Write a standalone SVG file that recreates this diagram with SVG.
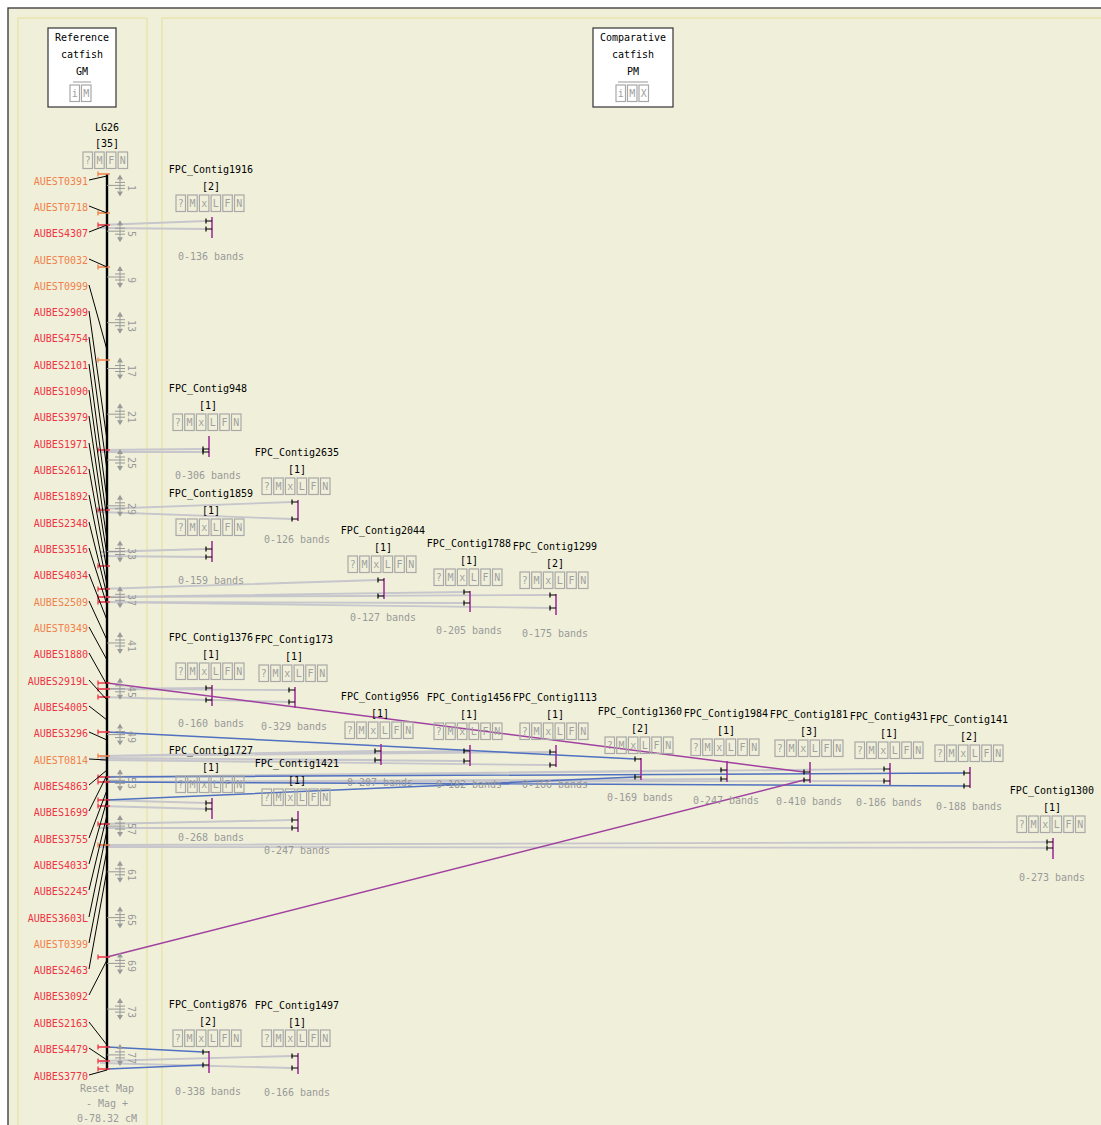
<svg xmlns="http://www.w3.org/2000/svg" xmlns:xlink="http://www.w3.org/1999/xlink" width="1101" height="1125" viewBox="0 0 1101 1125">
<style>
text{font-family:"DejaVu Sans Mono","Liberation Mono",monospace;font-size:10px;fill:#000}
.c{text-anchor:middle}
.e{text-anchor:end}
.g{fill:#999}
.r{fill:#ee3344}
.o{fill:#f0804a}
.bx{fill:none;stroke:#a8a8a8;stroke-width:1.2}
.bt{fill:#a0a0a0;text-anchor:middle}
.bar{stroke:#a0309a;stroke-width:1.6}
.tk{stroke:#000;stroke-width:1.2;fill:none}
.gl{stroke:#c6c6cc;stroke-width:1.8;fill:none}
.bl{stroke:#5070c0;stroke-width:1.5;fill:none}
.pl{stroke:#a040a0;stroke-width:1.5;fill:none}
.ld{stroke:#000;stroke-width:1;fill:none}
.hr{stroke:#ee3344;stroke-width:1.3;fill:none}
.ho{stroke:#f0804a;stroke-width:1.3;fill:none}
</style>
<defs>
<g id="b6">
<rect class="bx" x="0" y="0" width="9.5" height="16.5"/><rect class="bx" x="11.7" y="0" width="9.5" height="16.5"/><rect class="bx" x="23.4" y="0" width="9.5" height="16.5"/><rect class="bx" x="35.1" y="0" width="9.5" height="16.5"/><rect class="bx" x="46.8" y="0" width="9.5" height="16.5"/><rect class="bx" x="58.5" y="0" width="9.5" height="16.5"/>
<text class="bt" x="4.75" y="12">?</text><text class="bt" x="16.45" y="12">M</text><text class="bt" x="28.15" y="12">x</text><text class="bt" x="39.85" y="12">L</text><text class="bt" x="51.55" y="12">F</text><text class="bt" x="63.25" y="12">N</text>
</g>
<g id="tk">
<path d="M0,0H18 M8,-3H18 M8,3H18 M13,-6V6" stroke="#999" fill="none"/>
<path d="M10,-6L13,-11L16,-6Z M10,6L13,11L16,6Z" fill="#999"/>
</g>
<path id="ct" d="M-6,-2.5V2.5 M-6,0H0" class="tk"/>
<path id="hr" d="M98,-2.5V2.5 M98,0H110" class="hr"/>
<path id="ho" d="M98,-2.5V2.5 M98,0H110" class="ho"/>
</defs>

<rect width="1101" height="1125" fill="#fff"/>
<rect x="8" y="8" width="1100" height="1130" fill="#f0f0da" stroke="#333" stroke-width="1.3"/>
<rect x="18" y="18" width="129" height="1120" fill="none" stroke="#e8e2a4" stroke-width="1.2"/>
<rect x="162" y="18" width="950" height="1120" fill="none" stroke="#e8e2a4" stroke-width="1.2"/>

<g id="ref-box">
<rect x="48" y="28" width="68" height="79" fill="#fff" stroke="#333" stroke-width="1.2"/>
<text class="c" x="82" y="41">Reference</text>
<text class="c" x="82" y="58">catfish</text>
<text class="c" x="82" y="75">GM</text>
<line x1="73" y1="82" x2="91" y2="82" stroke="#999"/>
<rect class="bx" x="70" y="85" width="9.5" height="16.5"/><rect class="bx" x="81.5" y="85" width="9.5" height="16.5"/>
<text class="bt" x="74.75" y="97">i</text><text class="bt" x="86.25" y="97">M</text>
</g>
<g id="cmp-box">
<rect x="593" y="28" width="80" height="79" fill="#fff" stroke="#333" stroke-width="1.2"/>
<text class="c" x="633" y="41">Comparative</text>
<text class="c" x="633" y="58">catfish</text>
<text class="c" x="633" y="75">PM</text>
<line x1="618" y1="82" x2="648" y2="82" stroke="#999"/>
<rect class="bx" x="616" y="85" width="9.5" height="16.5"/><rect class="bx" x="627.5" y="85" width="9.5" height="16.5"/><rect class="bx" x="639" y="85" width="9.5" height="16.5"/>
<text class="bt" x="620.75" y="97">i</text><text class="bt" x="632.25" y="97">M</text><text class="bt" x="643.75" y="97">X</text>
</g>

<g id="connectors">
<path class="gl" d="M100,225L206,221 M100,228L206,229 M100,450L203,449 M100,452L203,452 M100,509L292,502 M100,512L292,519 M100,552L206,549 M100,556L206,557 M100,589L378,580 M100,597L378,596 M100,597L464,592 M100,602L464,603 M100,597L550,595 M100,602L550,608 M100,689L206,688 M100,697L206,700 M100,689L289,690 M100,697L289,702 M100,756L375,751 M100,758L375,760 M100,756L464,751 M100,758L464,761 M100,756L550,752 M100,760L550,765 M100,777L721,770 M100,782L721,779 M100,777L884,769 M100,782L884,781 M100,800L206,803 M100,806L206,809 M100,824L292,820 M100,828L292,828 M100,845L1047,842 M100,847L1047,848 M100,1061L292,1056 M100,1063L292,1068"/>
<path class="bl" d="M107,732L635,759 M107,800L635,777 M107,777L964,773 M107,782L964,786 M107,1047L203,1052 M107,1069L203,1065"/>
<path class="pl" d="M107,683L804,772 M107,957L804,780"/>
</g>

<g id="LG26">
<text class="c" x="107" y="131">LG26</text>
<text class="c" x="107" y="147">[35]</text>
<rect class="bx" x="83" y="152" width="9.5" height="16.5"/><rect class="bx" x="94.7" y="152" width="9.5" height="16.5"/><rect class="bx" x="106.4" y="152" width="9.5" height="16.5"/><rect class="bx" x="118.1" y="152" width="9.5" height="16.5"/>
<text class="bt" x="87.75" y="164">?</text><text class="bt" x="99.45" y="164">M</text><text class="bt" x="111.15" y="164">F</text><text class="bt" x="122.85" y="164">N</text>
<line x1="107" y1="174" x2="107" y2="1070" stroke="#000" stroke-width="2.4"/>
<use xlink:href="#tk" x="107" y="185.4"/><use xlink:href="#tk" x="107" y="231.2"/><use xlink:href="#tk" x="107" y="277"/><use xlink:href="#tk" x="107" y="322.7"/><use xlink:href="#tk" x="107" y="368.5"/><use xlink:href="#tk" x="107" y="414.2"/><use xlink:href="#tk" x="107" y="460"/><use xlink:href="#tk" x="107" y="505.8"/><use xlink:href="#tk" x="107" y="551.5"/><use xlink:href="#tk" x="107" y="597.3"/><use xlink:href="#tk" x="107" y="643"/><use xlink:href="#tk" x="107" y="688.8"/><use xlink:href="#tk" x="107" y="734.6"/><use xlink:href="#tk" x="107" y="780.3"/><use xlink:href="#tk" x="107" y="826.1"/><use xlink:href="#tk" x="107" y="871.8"/><use xlink:href="#tk" x="107" y="917.6"/><use xlink:href="#tk" x="107" y="963.4"/><use xlink:href="#tk" x="107" y="1009.1"/><use xlink:href="#tk" x="107" y="1054.9"/>
<g class="g">
<text class="g c" transform="translate(128,188) rotate(90)">1</text>
<text class="g c" transform="translate(128,234) rotate(90)">5</text>
<text class="g c" transform="translate(128,280) rotate(90)">9</text>
<text class="g c" transform="translate(128,326) rotate(90)">13</text>
<text class="g c" transform="translate(128,371) rotate(90)">17</text>
<text class="g c" transform="translate(128,417) rotate(90)">21</text>
<text class="g c" transform="translate(128,463) rotate(90)">25</text>
<text class="g c" transform="translate(128,509) rotate(90)">29</text>
<text class="g c" transform="translate(128,554) rotate(90)">33</text>
<text class="g c" transform="translate(128,600) rotate(90)">37</text>
<text class="g c" transform="translate(128,646) rotate(90)">41</text>
<text class="g c" transform="translate(128,692) rotate(90)">45</text>
<text class="g c" transform="translate(128,737) rotate(90)">49</text>
<text class="g c" transform="translate(128,783) rotate(90)">53</text>
<text class="g c" transform="translate(128,829) rotate(90)">57</text>
<text class="g c" transform="translate(128,875) rotate(90)">61</text>
<text class="g c" transform="translate(128,920) rotate(90)">65</text>
<text class="g c" transform="translate(128,966) rotate(90)">69</text>
<text class="g c" transform="translate(128,1012) rotate(90)">73</text>
<text class="g c" transform="translate(128,1058) rotate(90)">77</text>
</g>
<use xlink:href="#ho" y="174"/><use xlink:href="#ho" y="213"/><use xlink:href="#hr" y="225"/><use xlink:href="#ho" y="267"/><use xlink:href="#ho" y="360"/><use xlink:href="#hr" y="450"/><use xlink:href="#hr" y="510"/><use xlink:href="#hr" y="566"/><use xlink:href="#hr" y="589"/><use xlink:href="#hr" y="597"/><use xlink:href="#hr" y="602"/><use xlink:href="#hr" y="683"/><use xlink:href="#hr" y="689"/><use xlink:href="#hr" y="697"/><use xlink:href="#hr" y="732"/><use xlink:href="#ho" y="756"/><use xlink:href="#hr" y="777"/><use xlink:href="#hr" y="782"/><use xlink:href="#hr" y="800"/><use xlink:href="#hr" y="806"/><use xlink:href="#hr" y="824"/><use xlink:href="#ho" y="845"/><use xlink:href="#hr" y="957"/><use xlink:href="#hr" y="1047"/><use xlink:href="#hr" y="1061"/><use xlink:href="#hr" y="1069"/>
<path class="ld" d="M89,180L107,176 M89,206L107,213 M89,232L107,225 M89,259L107,267 M89,285L107,350 M89,311L107,440 M89,337L107,470 M89,364L107,500 M89,390L107,520 M89,416L107,540 M89,443L107,555 M89,469L107,570 M89,495L107,585 M89,522L107,595 M89,548L107,605 M89,574L107,620 M89,601L107,640 M89,627L107,660 M89,653L107,685 M89,680L107,700 M89,706L107,720 M89,732L107,740 M89,759L107,760 M89,785L107,770 M89,811L107,775 M89,838L107,790 M89,864L107,800 M89,890L107,815 M89,917L107,830 M89,943L107,850 M89,969L107,870 M89,995L107,960 M89,1022L107,1045 M89,1048L107,1060 M89,1075L107,1070"/>
<text class="e o" x="88" y="185">AUEST0391</text>
<text class="e o" x="88" y="211">AUEST0718</text>
<text class="e r" x="88" y="237">AUBES4307</text>
<text class="e o" x="88" y="264">AUEST0032</text>
<text class="e o" x="88" y="290">AUEST0999</text>
<text class="e r" x="88" y="316">AUBES2909</text>
<text class="e r" x="88" y="342">AUBES4754</text>
<text class="e r" x="88" y="369">AUBES2101</text>
<text class="e r" x="88" y="395">AUBES1090</text>
<text class="e r" x="88" y="421">AUBES3979</text>
<text class="e r" x="88" y="448">AUBES1971</text>
<text class="e r" x="88" y="474">AUBES2612</text>
<text class="e r" x="88" y="500">AUBES1892</text>
<text class="e r" x="88" y="527">AUBES2348</text>
<text class="e r" x="88" y="553">AUBES3516</text>
<text class="e r" x="88" y="579">AUBES4034</text>
<text class="e o" x="88" y="606">AUBES2509</text>
<text class="e o" x="88" y="632">AUEST0349</text>
<text class="e r" x="88" y="658">AUBES1880</text>
<text class="e r" x="88" y="685">AUBES2919L</text>
<text class="e r" x="88" y="711">AUBES4005</text>
<text class="e r" x="88" y="737">AUBES3296</text>
<text class="e o" x="88" y="764">AUEST0814</text>
<text class="e r" x="88" y="790">AUBES4863</text>
<text class="e r" x="88" y="816">AUBES1699</text>
<text class="e r" x="88" y="843">AUBES3755</text>
<text class="e r" x="88" y="869">AUBES4033</text>
<text class="e r" x="88" y="895">AUBES2245</text>
<text class="e r" x="88" y="922">AUBES3603L</text>
<text class="e o" x="88" y="948">AUEST0399</text>
<text class="e r" x="88" y="974">AUBES2463</text>
<text class="e r" x="88" y="1000">AUBES3092</text>
<text class="e r" x="88" y="1027">AUBES2163</text>
<text class="e r" x="88" y="1053">AUBES4479</text>
<text class="e r" x="88" y="1080">AUBES3770</text>
<text class="g c" x="107" y="1092">Reset Map</text>
<text class="g c" x="107" y="1107">- Mag +</text>
<text class="g c" x="107" y="1122">0-78.32 cM</text>
</g>

<g id="FPC_Contig1916"><text class="c" x="211" y="173">FPC_Contig1916</text><text class="c" x="211" y="190">[2]</text><use xlink:href="#b6" x="176" y="195"/><line class="bar" x1="212" y1="217" x2="212" y2="238"/><use xlink:href="#ct" x="212" y="221"/><use xlink:href="#ct" x="212" y="229"/><text class="g c" x="211" y="260">0-136 bands</text></g>
<g id="FPC_Contig948"><text class="c" x="208" y="392">FPC_Contig948</text><text class="c" x="208" y="409">[1]</text><use xlink:href="#b6" x="173" y="414"/><line class="bar" x1="209" y1="436" x2="209" y2="457"/><use xlink:href="#ct" x="209" y="449"/><use xlink:href="#ct" x="209" y="452"/><text class="g c" x="208" y="479">0-306 bands</text></g>
<g id="FPC_Contig2635"><text class="c" x="297" y="456">FPC_Contig2635</text><text class="c" x="297" y="473">[1]</text><use xlink:href="#b6" x="262" y="478"/><line class="bar" x1="298" y1="500" x2="298" y2="521"/><use xlink:href="#ct" x="298" y="502"/><use xlink:href="#ct" x="298" y="519"/><text class="g c" x="297" y="543">0-126 bands</text></g>
<g id="FPC_Contig1859"><text class="c" x="211" y="497">FPC_Contig1859</text><text class="c" x="211" y="514">[1]</text><use xlink:href="#b6" x="176" y="519"/><line class="bar" x1="212" y1="541" x2="212" y2="562"/><use xlink:href="#ct" x="212" y="549"/><use xlink:href="#ct" x="212" y="557"/><text class="g c" x="211" y="584">0-159 bands</text></g>
<g id="FPC_Contig2044"><text class="c" x="383" y="534">FPC_Contig2044</text><text class="c" x="383" y="551">[1]</text><use xlink:href="#b6" x="348" y="556"/><line class="bar" x1="384" y1="578" x2="384" y2="599"/><use xlink:href="#ct" x="384" y="580"/><use xlink:href="#ct" x="384" y="596"/><text class="g c" x="383" y="621">0-127 bands</text></g>
<g id="FPC_Contig1788"><text class="c" x="469" y="547">FPC_Contig1788</text><text class="c" x="469" y="564">[1]</text><use xlink:href="#b6" x="434" y="569"/><line class="bar" x1="470" y1="591" x2="470" y2="612"/><use xlink:href="#ct" x="470" y="592"/><use xlink:href="#ct" x="470" y="603"/><text class="g c" x="469" y="634">0-205 bands</text></g>
<g id="FPC_Contig1299"><text class="c" x="555" y="550">FPC_Contig1299</text><text class="c" x="555" y="567">[2]</text><use xlink:href="#b6" x="520" y="572"/><line class="bar" x1="556" y1="594" x2="556" y2="615"/><use xlink:href="#ct" x="556" y="595"/><use xlink:href="#ct" x="556" y="608"/><text class="g c" x="555" y="637">0-175 bands</text></g>
<g id="FPC_Contig1376"><text class="c" x="211" y="641">FPC_Contig1376</text><text class="c" x="211" y="658">[1]</text><use xlink:href="#b6" x="176" y="663"/><line class="bar" x1="212" y1="685" x2="212" y2="706"/><use xlink:href="#ct" x="212" y="688"/><use xlink:href="#ct" x="212" y="700"/><text class="g c" x="211" y="727">0-160 bands</text></g>
<g id="FPC_Contig173"><text class="c" x="294" y="643">FPC_Contig173</text><text class="c" x="294" y="660">[1]</text><use xlink:href="#b6" x="259" y="665"/><line class="bar" x1="295" y1="687" x2="295" y2="708"/><use xlink:href="#ct" x="295" y="690"/><use xlink:href="#ct" x="295" y="702"/><text class="g c" x="294" y="730">0-329 bands</text></g>
<g id="FPC_Contig956"><text class="c" x="380" y="700">FPC_Contig956</text><text class="c" x="380" y="717">[1]</text><use xlink:href="#b6" x="345" y="722"/><line class="bar" x1="381" y1="744" x2="381" y2="765"/><use xlink:href="#ct" x="381" y="751"/><use xlink:href="#ct" x="381" y="760"/><text class="g c" x="380" y="786">0-207 bands</text></g>
<g id="FPC_Contig1456"><text class="c" x="469" y="701">FPC_Contig1456</text><text class="c" x="469" y="718">[1]</text><use xlink:href="#b6" x="434" y="723"/><line class="bar" x1="470" y1="745" x2="470" y2="766"/><use xlink:href="#ct" x="470" y="751"/><use xlink:href="#ct" x="470" y="761"/><text class="g c" x="469" y="788">0-182 bands</text></g>
<g id="FPC_Contig1113"><text class="c" x="555" y="701">FPC_Contig1113</text><text class="c" x="555" y="718">[1]</text><use xlink:href="#b6" x="520" y="723"/><line class="bar" x1="556" y1="745" x2="556" y2="767"/><use xlink:href="#ct" x="556" y="752"/><use xlink:href="#ct" x="556" y="765"/><text class="g c" x="555" y="788">0-166 bands</text></g>
<g id="FPC_Contig1360"><text class="c" x="640" y="715">FPC_Contig1360</text><text class="c" x="640" y="732">[2]</text><use xlink:href="#b6" x="605" y="737"/><line class="bar" x1="641" y1="758" x2="641" y2="780"/><use xlink:href="#ct" x="641" y="759"/><use xlink:href="#ct" x="641" y="777"/><text class="g c" x="640" y="801">0-169 bands</text></g>
<g id="FPC_Contig1984"><text class="c" x="726" y="717">FPC_Contig1984</text><text class="c" x="726" y="734">[1]</text><use xlink:href="#b6" x="691" y="739"/><line class="bar" x1="727" y1="761" x2="727" y2="782"/><use xlink:href="#ct" x="727" y="770"/><use xlink:href="#ct" x="727" y="779"/><text class="g c" x="726" y="804">0-247 bands</text></g>
<g id="FPC_Contig181"><text class="c" x="809" y="718">FPC_Contig181</text><text class="c" x="809" y="735">[3]</text><use xlink:href="#b6" x="775" y="740"/><line class="bar" x1="810" y1="762" x2="810" y2="783"/><use xlink:href="#ct" x="810" y="772"/><use xlink:href="#ct" x="810" y="780"/><text class="g c" x="809" y="805">0-410 bands</text></g>
<g id="FPC_Contig431"><text class="c" x="889" y="720">FPC_Contig431</text><text class="c" x="889" y="737">[1]</text><use xlink:href="#b6" x="855" y="742"/><line class="bar" x1="890" y1="763" x2="890" y2="785"/><use xlink:href="#ct" x="890" y="769"/><use xlink:href="#ct" x="890" y="781"/><text class="g c" x="889" y="806">0-186 bands</text></g>
<g id="FPC_Contig141"><text class="c" x="969" y="723">FPC_Contig141</text><text class="c" x="969" y="740">[2]</text><use xlink:href="#b6" x="935" y="745"/><line class="bar" x1="970" y1="767" x2="970" y2="788"/><use xlink:href="#ct" x="970" y="773"/><use xlink:href="#ct" x="970" y="786"/><text class="g c" x="969" y="810">0-188 bands</text></g>
<g id="FPC_Contig1300"><text class="c" x="1052" y="794">FPC_Contig1300</text><text class="c" x="1052" y="811">[1]</text><use xlink:href="#b6" x="1017" y="816"/><line class="bar" x1="1053" y1="838" x2="1053" y2="859"/><use xlink:href="#ct" x="1053" y="842"/><use xlink:href="#ct" x="1053" y="848"/><text class="g c" x="1052" y="881">0-273 bands</text></g>
<g id="FPC_Contig1727"><text class="c" x="211" y="754">FPC_Contig1727</text><text class="c" x="211" y="771">[1]</text><use xlink:href="#b6" x="176" y="776"/><line class="bar" x1="212" y1="798" x2="212" y2="819"/><use xlink:href="#ct" x="212" y="803"/><use xlink:href="#ct" x="212" y="809"/><text class="g c" x="211" y="841">0-268 bands</text></g>
<g id="FPC_Contig1421"><text class="c" x="297" y="767">FPC_Contig1421</text><text class="c" x="297" y="784">[1]</text><use xlink:href="#b6" x="262" y="789"/><line class="bar" x1="298" y1="811" x2="298" y2="832"/><use xlink:href="#ct" x="298" y="820"/><use xlink:href="#ct" x="298" y="828"/><text class="g c" x="297" y="854">0-247 bands</text></g>
<g id="FPC_Contig876"><text class="c" x="208" y="1008">FPC_Contig876</text><text class="c" x="208" y="1025">[2]</text><use xlink:href="#b6" x="173" y="1030"/><line class="bar" x1="209" y1="1051" x2="209" y2="1073"/><use xlink:href="#ct" x="209" y="1052"/><use xlink:href="#ct" x="209" y="1065"/><text class="g c" x="208" y="1095">0-338 bands</text></g>
<g id="FPC_Contig1497"><text class="c" x="297" y="1009">FPC_Contig1497</text><text class="c" x="297" y="1026">[1]</text><use xlink:href="#b6" x="262" y="1030"/><line class="bar" x1="298" y1="1053" x2="298" y2="1074"/><use xlink:href="#ct" x="298" y="1056"/><use xlink:href="#ct" x="298" y="1068"/><text class="g c" x="297" y="1096">0-166 bands</text></g>
</svg>
